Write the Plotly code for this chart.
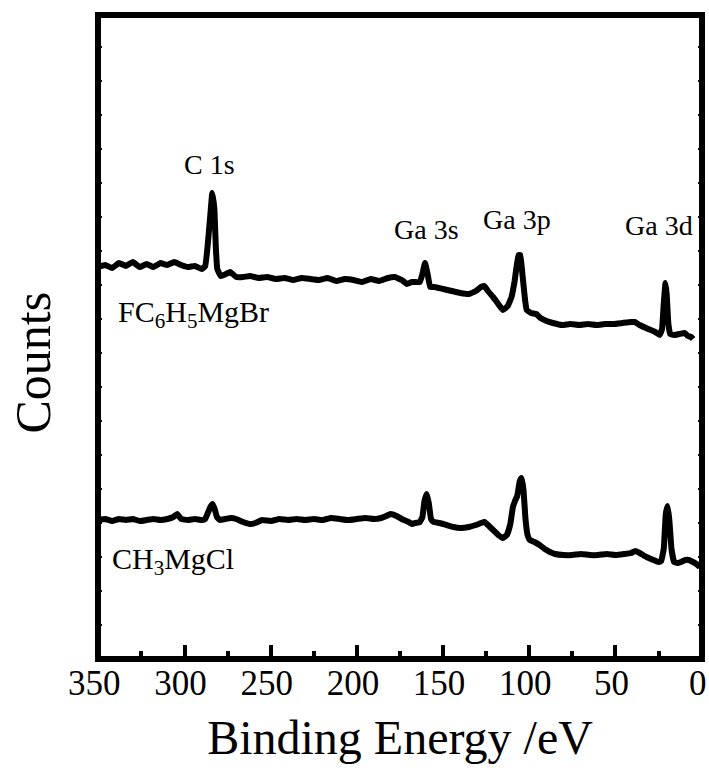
import plotly.graph_objects as go

# Binding energy (eV) and counts (a.u.) for FC6H5MgBr-treated sample (upper spectrum)
be_fc = [350, 346, 342, 338, 334, 330, 326, 322, 318, 314, 310, 306, 302, 298, 294, 290, 288,
         286.5, 285, 283.9, 282.7, 281.8, 281, 279, 276, 273.5, 270, 266, 262, 257, 252, 247,
         242, 237, 232, 227, 222, 217, 212, 207, 202, 197, 192, 187, 182, 178, 174, 171, 168,
         163.5, 162, 160.5, 159, 157.5, 155, 150, 145, 140, 135, 131, 128, 126, 124, 121, 118,
         115.3, 112.5, 110.3, 108.5, 107.4, 106.2, 105.2, 104, 102.5, 101.5, 99, 96, 93.5, 90,
         86.3, 81, 76, 71, 66, 61, 56, 51, 46, 41, 38.8, 36, 31, 27, 24.3, 23, 22, 21, 20.3,
         19.3, 18.3, 16, 13, 9.8, 8, 6, 5]
cnt_fc = [392, 394, 391, 396, 393, 397, 392, 395, 392, 396, 394, 397, 394, 392, 393, 390, 393,
          415, 445, 466, 450, 410, 390, 383, 385, 387, 382, 382, 383, 381, 382, 380,
          381, 379, 381, 380, 379, 381, 378, 380, 379, 377, 380, 378, 381, 382, 379, 375, 377,
          377, 385, 396, 385, 372, 372, 370, 368, 366, 365, 368, 372, 373, 368, 362, 355,
          349, 353, 362, 378, 392, 404, 404, 385, 360, 349, 346, 345, 341, 338,
          336, 334, 335, 334, 335, 334, 335, 335, 336, 337, 337, 334, 330, 327, 324, 330, 355, 376, 365,
          335, 325, 324, 325, 326, 323, 322, 320]

# Binding energy (eV) and counts (a.u.) for CH3MgCl-treated sample (lower spectrum)
be_ch = [350, 346, 342, 338, 334, 330, 326, 322, 318, 314, 310, 306.5, 304.3, 302, 298, 294, 290,
         288, 286.5, 285, 283.8, 282.5, 281.2, 279.5, 276.5, 273, 270, 266, 262, 259, 255, 250,
         245, 240, 235, 230, 225, 220, 215, 210, 205, 200, 195, 190, 186, 183, 180.5, 177, 174,
         170, 168, 166, 163.5, 162, 160.8, 159.5, 158.3, 157, 155.5, 152, 148, 144, 140, 135,
         131, 128, 126, 124, 121, 118, 115.5, 113, 111, 109.5, 108.3, 107, 105.5, 104.5, 103.4,
         102.2, 101, 99.7, 97, 94, 91, 88, 85, 80, 75, 70, 65, 60, 55, 50, 45, 41, 38.5, 36, 32,
         28, 25, 23.5, 22, 20.8, 19.8, 18.8, 17.5, 16, 14, 12, 9.5, 7.5, 5, 3, 1]
cnt_ch = [139, 140, 138, 140, 139, 140, 138, 139, 140, 139, 140, 142, 145, 140, 139, 140, 139,
          140, 146, 152, 155, 150, 142, 139, 140, 141, 140, 137, 135, 136, 139, 138,
          140, 139, 140, 139, 140, 139, 141, 140, 139, 140, 141, 140, 141, 143, 145, 143, 140,
          137, 135, 136, 137, 142, 158, 165, 156, 140, 137, 136, 134, 132, 131, 132,
          134, 136, 137, 134, 129, 124, 121, 124, 135, 152, 158, 163, 178, 181, 170,
          140, 124, 119, 117, 114, 110, 107, 105, 104, 104, 105, 104, 104, 105, 104, 105, 106, 108, 106, 102,
          99, 97, 98, 110, 145, 153, 140, 110, 97, 96, 97, 99, 99, 97, 95, 92]

# Peak labels: (text, binding energy, counts)
peak_text = ["C 1s", "Ga 3s", "Ga 3p", "Ga 3d"]
peak_be = [285.6, 159.9, 107.2, 24.9]
peak_cnt = [495, 430, 440, 434]

# Sample labels
sample_text = ["FC<sub>6</sub>H<sub>5</sub>MgBr", "CH<sub>3</sub>MgCl"]
sample_be = [340, 343]
sample_cnt = [345, 98]

x_ticks = [350, 300, 250, 200, 150, 100, 50, 0]
x_minor = [325, 275, 225, 175, 125, 75, 25]

FONT = "Liberation Serif"

fig = go.Figure()
for bx, cy in [(be_fc, cnt_fc), (be_ch, cnt_ch)]:
    fig.add_trace(go.Scatter(x=bx, y=cy, mode="lines",
                             line=dict(color="black", width=6, shape="spline", smoothing=0.3),
                             showlegend=False, hoverinfo="skip"))

for t, bx, cy in zip(peak_text, peak_be, peak_cnt):
    fig.add_annotation(x=bx, y=cy, text=t, showarrow=False, xanchor="center", yanchor="middle",
                       font=dict(family=FONT, size=28, color="black"))
for t, bx, cy in zip(sample_text, sample_be, sample_cnt):
    fig.add_annotation(x=bx, y=cy, text=t, showarrow=False, xanchor="left", yanchor="middle",
                       font=dict(family=FONT, size=30, color="black"))

fig.add_annotation(xref="paper", yref="paper", x=-0.108, y=0.46, text="Counts", textangle=-90,
                   showarrow=False, xanchor="center", yanchor="middle",
                   font=dict(family=FONT, size=50, color="black"))

fig.add_shape(type="rect", xref="paper", yref="paper", x0=0, x1=1, y0=0, y1=1,
              line=dict(color="black", width=6), layer="above")

fig.update_layout(
    width=709, height=773,
    margin=dict(l=98, r=7, t=15, b=114, autoexpand=False),
    plot_bgcolor="white", paper_bgcolor="white",
    font=dict(family=FONT, color="black"),
    xaxis=dict(range=[350.2, -0.2], tickvals=x_ticks,
               ticks="inside", ticklen=14, tickwidth=4,
               tickcolor="black", showgrid=False, zeroline=False, showline=False,
               ticklabeloverflow="allow", automargin=False, ticklabelshift=4,
               tickfont=dict(family=FONT, size=35, color="black"),
               minor=dict(tickvals=x_minor, ticks="inside",
                          ticklen=8, tickwidth=4, tickcolor="black", showgrid=False),
               title=dict(text="Binding Energy /eV", font=dict(family=FONT, size=48, color="black"),
                          standoff=18)),
    yaxis=dict(range=[0, 644], tick0=0, dtick=34, ticks="inside", ticklen=4, tickwidth=2,
               tickcolor="black", showticklabels=False, showgrid=False, zeroline=False,
               showline=False, mirror="ticks", automargin=False),
)

fig.write_html("out.html")
